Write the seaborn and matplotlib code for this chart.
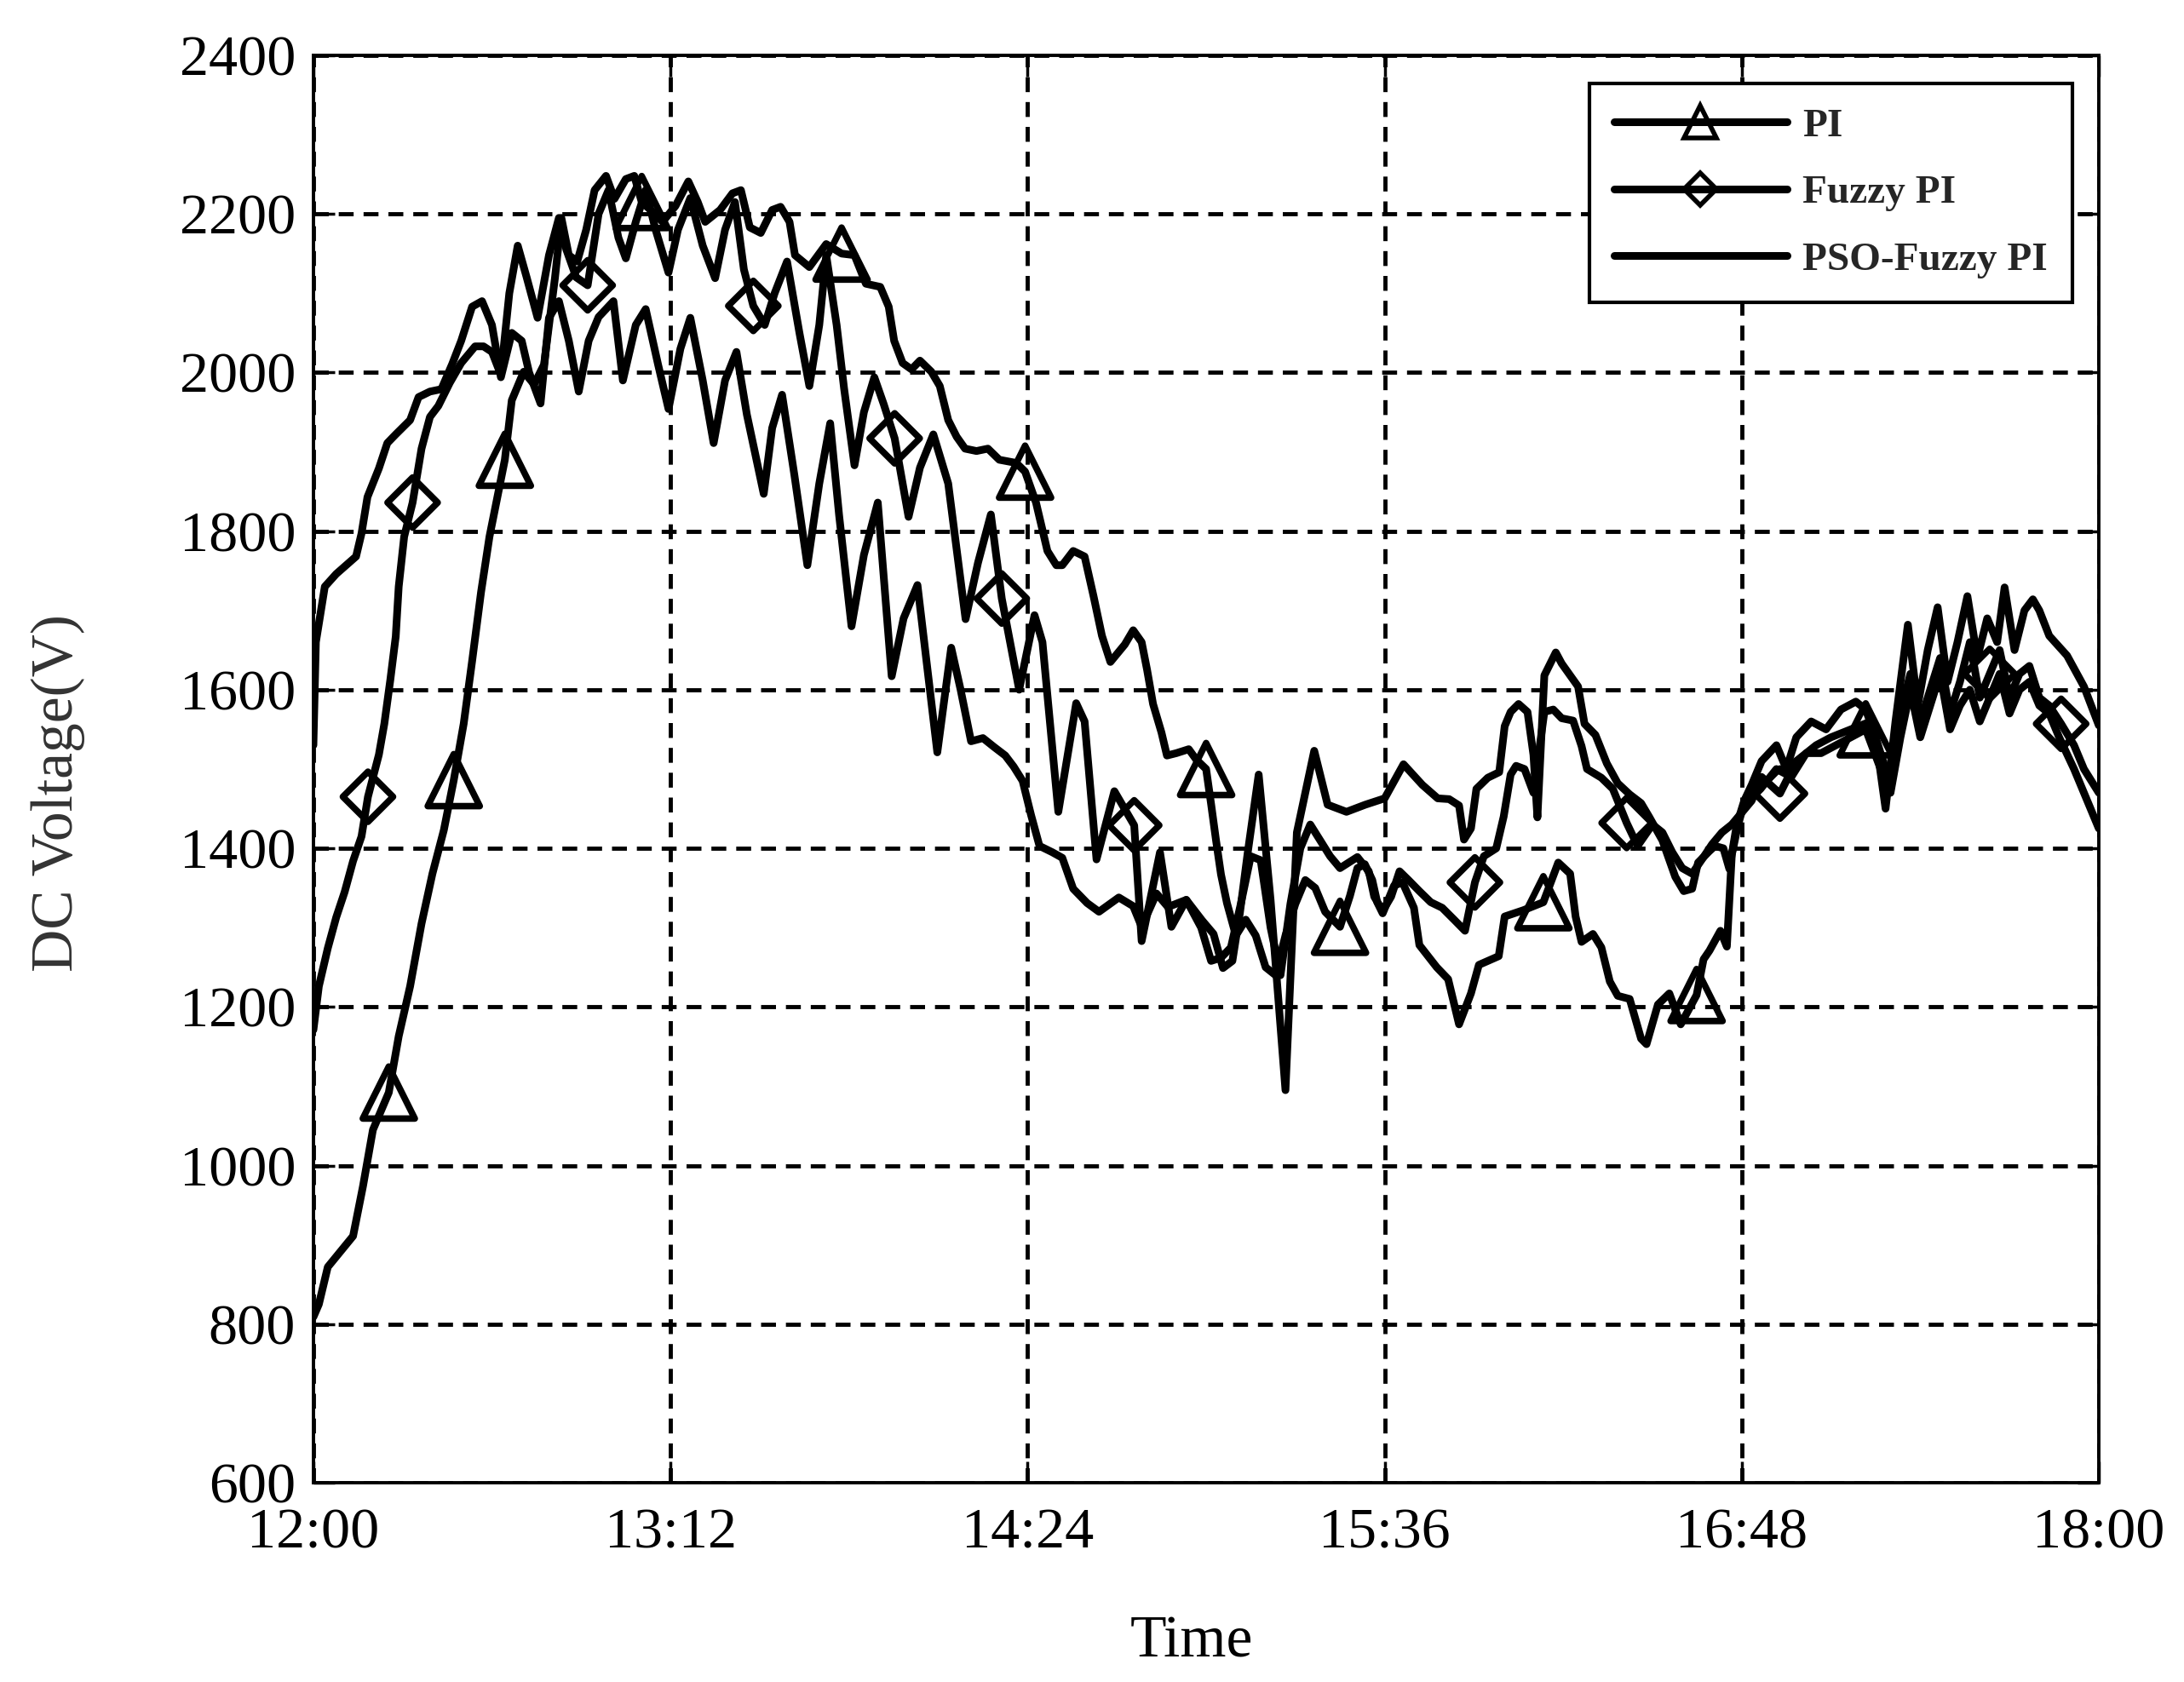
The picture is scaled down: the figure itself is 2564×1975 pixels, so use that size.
import numpy as np
import pandas as pd
import matplotlib
matplotlib.use('Agg')
import matplotlib.pyplot as plt
from matplotlib.lines import Line2D
import seaborn as sns

# time in minutes after 12:00, DC voltage in V
pi_t = [0, 1.1, 2.9, 8, 10, 12, 15.2, 17.2, 19.5, 21.8, 24, 26.3, 28.3, 30.3, 32, 33.8, 35.5,
        38.6, 40, 42.4, 44.5, 46.5, 48.7, 50, 51.5, 53.2, 55, 56.7, 59, 60.7, 63, 64.7, 66.2,
        68, 70.4, 73, 75.6, 77.5, 79, 82, 84.5, 86.2, 88, 90.2, 92.5, 94.2, 96, 97.1, 100,
        103.4, 106.5, 109.1, 111.4, 114.3, 116, 117.1, 118.8, 120.6, 122.3, 124.6, 126.3, 128,
        129.7, 131.4, 133.7, 136, 138.3, 141.7, 143.5, 145.7, 146.9, 148, 149.8, 151, 153.2,
        155.5, 157.3, 159, 160.7, 163.6, 165.3, 167, 168.1, 169.3, 171, 172.1, 174, 176.5, 178,
        180, 181, 182, 183, 184.2, 186, 188, 190, 192, 194, 196, 198, 200, 202, 204, 207, 209,
        210.5, 212, 213.5, 214.5, 215.6, 217.9, 219.6, 221.9, 223, 226.5, 228.8, 231, 233.4,
        235, 239, 240.2, 244, 248, 251, 253.4, 254.5, 255.7, 258, 259.7, 261.4, 263, 265.4,
        267.7, 268.8, 271.1, 273.4, 275.7, 278.9, 280.3, 281.5, 283.7, 285, 286, 287.2, 288.3,
        291.8, 295, 298, 301, 304, 307, 310, 313, 316, 318, 320, 322, 324, 326, 328, 330, 332,
        334, 336, 338, 340, 342, 344, 346, 348, 350, 352, 355, 357, 360]
pi_v = [809, 825, 872, 911, 974, 1045, 1092, 1163, 1226, 1305, 1368, 1423, 1486, 1557, 1636, 1723, 1793,
        1890, 1965, 2001, 1985, 2010, 2119, 2195, 2148, 2140, 2180, 2230, 2248, 2219, 2244, 2248, 2215,
        2205, 2190, 2210, 2241, 2215, 2190, 2205, 2226, 2230, 2183, 2176, 2205, 2209, 2190, 2148, 2133,
        2162, 2150, 2148, 2112, 2108, 2083, 2040, 2012, 2004, 2015, 2001, 1983, 1940,
        1919, 1904, 1901, 1904, 1890, 1886, 1875, 1836, 1804, 1775, 1757, 1757, 1775,
        1768, 1718, 1668, 1635, 1657, 1675, 1660, 1625, 1582, 1546, 1517, 1520, 1525, 1512,
        1500, 1456, 1410, 1367, 1331, 1290, 1310, 1290, 1250, 1240, 1290, 1330, 1360, 1350, 1320, 1301, 1340,
        1375, 1380, 1360, 1332, 1318, 1353, 1357, 1325, 1278, 1250, 1235, 1178, 1217,
        1253, 1264, 1314, 1322, 1332, 1382, 1368, 1314, 1282, 1292, 1275, 1232, 1214, 1210,
        1160, 1153, 1203, 1217, 1178, 1215, 1260, 1271, 1296, 1276, 1392, 1428, 1453,
        1475, 1500, 1490, 1520, 1520, 1530, 1540, 1550, 1500, 1470, 1540, 1600, 1540, 1580, 1620, 1550, 1580,
        1600, 1560, 1590, 1620, 1570, 1600, 1610, 1580, 1570, 1540, 1500, 1470, 1425]
pi_marks = [15.2, 28.3, 38.6, 66.2, 106.5, 143.5, 180, 207, 248, 278.9, 313]

fz_t = [0, 1.1, 2.9, 4.6, 6.3, 8, 9.7, 11, 13.2, 14.3, 15.5, 16.6, 17.2, 18.3, 20, 21.8, 23.5,
        25.2, 27.5, 29.8, 32.6, 34.3, 36, 37.8, 39.5, 41.2, 43, 45.2, 47.5, 49.5, 51, 53, 55.3,
        57.5, 59.5, 61.5, 63, 65, 67, 69, 71.6, 73.5, 76, 78.5, 81, 83, 85, 86.8, 88.7, 91, 93,
        95.5, 98, 100, 102, 103.4, 105.5, 107, 109.1, 111, 113.1, 115, 117.2, 120, 122.3, 125,
        128, 131.5, 134, 136.6, 138.8, 142.3, 145.4, 147, 150.2, 153.8, 155.5, 157.9, 161.5,
        165.5, 167, 170.7, 173, 176, 179, 181, 183, 185, 187, 189, 191, 193, 195, 197, 199, 201,
        203, 205, 207, 210.5, 212.8, 213.9, 215.6, 217.3, 219, 220.8, 223, 225.3, 227.6, 230,
        232.2, 234.2, 236, 238.5, 240, 241.4, 242.5, 244.2, 246, 248.2, 250, 251.7, 254, 255.7,
        256.8, 259.7, 262, 264.8, 267, 270, 272, 274, 276, 278, 280.3, 282, 284, 286, 288, 290,
        292, 295.7, 299, 303, 306, 310, 314, 316, 318, 320, 322, 324, 326, 328, 330, 332, 334,
        336, 338, 340, 342, 344, 346, 348, 350, 352.4, 355, 357, 360]
fz_v = [1171, 1226, 1274, 1313, 1345, 1384, 1415, 1465, 1518, 1557, 1612, 1667, 1730, 1793, 1836, 1904, 1944,
        1958, 1987, 2012, 2033, 2033, 2026, 1997, 2100, 2160, 2120, 2069, 2148, 2195, 2155, 2120, 2110,
        2200, 2230, 2170, 2144, 2190, 2230, 2180, 2126, 2180, 2220, 2160, 2119, 2180, 2215, 2130, 2084, 2060, 2100,
        2140, 2050, 1983, 2060, 2148, 2060, 1980, 1883, 1950, 1994, 1960, 1917, 1818, 1880, 1922,
        1860, 1689, 1760, 1821, 1715, 1600, 1694, 1660, 1446, 1583, 1560, 1386, 1472,
        1429, 1283, 1395, 1301, 1335, 1300, 1258, 1262, 1275, 1330, 1390, 1385, 1300, 1240, 1330, 1400, 1430,
        1410, 1390, 1375, 1389, 1371, 1339, 1321, 1339, 1371, 1360, 1346, 1332, 1325, 1310,
        1296, 1357, 1390, 1400, 1440, 1493, 1504, 1500, 1470, 1572, 1575, 1564, 1561, 1529,
        1500, 1489, 1475, 1432, 1403, 1430, 1420, 1395, 1375, 1368, 1389, 1405, 1420, 1430, 1445, 1460,
        1490, 1469, 1510, 1530, 1540, 1550, 1560, 1520, 1480, 1570, 1620, 1560, 1600, 1640, 1570, 1610, 1660,
        1590, 1620, 1650, 1590, 1620, 1630, 1590, 1580, 1557, 1530, 1500, 1470]
fz_marks = [11, 20, 55.3, 88.7, 117.2, 138.8, 165.5, 234.2, 264.8, 295.7, 338, 352.4]

pso_t = [0, 0.5, 2.3, 4.6, 8.6, 9.7, 10.9, 13.2, 14.9, 16.6, 19.5, 21.2, 23.5, 25.8, 28, 29.8, 32,
         34, 36, 37.8, 40, 42, 43.5, 45.8, 47.5, 49.5, 51.5, 53.5, 55.5, 57.5, 60.5, 62.4, 65, 67,
         69.5, 71.6, 74, 76, 78.5, 80.7, 83, 85.3, 87.4, 90.8, 92.5, 94.5, 97, 99.6, 102, 104.2,
         106, 108.5, 111, 113.8, 116.6, 119, 121.8, 125.8, 128.6, 130.5, 132.6, 135, 137.2, 139.5,
         141.2, 143, 144.7, 146.4, 149, 151, 153.2, 156, 158.4, 162.4, 165.3, 167, 170, 172.3, 176,
         179.2, 181.5, 183.4, 185.3, 186.8, 188.4, 190.6, 193, 196, 198.3, 201.8, 204.5, 208.3,
         212.1, 216, 219.8, 223.6, 226.7, 229, 231, 232, 233.4, 234.5, 236.8, 239.1, 240.2, 241.4,
         243, 244.8, 246, 246.8, 248.2, 250.5, 251.7, 255, 256.3, 258.5, 260.8, 263, 265.4, 267.7,
         269.4, 272, 274.6, 276.3, 278, 279.2, 281.4, 282.6, 284.3, 285.5, 287, 288.5, 290, 292,
         295, 297, 299, 302, 305, 308, 311, 313, 315, 317, 319, 321.5, 323.5, 325.5, 327.5, 329.5,
         331.5, 333.5, 335.5, 337.5, 339.5, 341, 343, 345, 346.7, 348, 350, 353.6, 357, 360]
pso_v = [1530, 1660, 1730, 1746, 1768, 1797, 1843, 1879, 1911, 1922, 1940, 1969, 1976, 1979, 2011, 2040, 2083,
         2090, 2060, 1994, 2050, 2040, 2000, 1961, 2069, 2090, 2040, 1976, 2040, 2070, 2090, 1990, 2060, 2080,
         2010, 1954, 2030, 2069, 1990, 1911, 1990, 2026, 1947, 1847, 1930, 1972, 1870, 1757, 1860, 1936,
         1820, 1680, 1770, 1836, 1617, 1690, 1732, 1521, 1653, 1600, 1535, 1539, 1528, 1517,
         1503, 1485, 1442, 1403, 1395, 1388, 1349, 1331, 1320, 1338, 1327, 1301, 1343, 1326, 1335,
         1309, 1292, 1249, 1258, 1318, 1395, 1493, 1335, 1095, 1420, 1523, 1455, 1446,
         1455, 1463, 1506, 1480, 1463, 1462, 1454, 1411, 1425, 1475, 1489, 1496, 1554, 1572,
         1582, 1572, 1518, 1439, 1618, 1647, 1633, 1604, 1557, 1543, 1507, 1482, 1468, 1457,
         1439, 1410, 1364, 1346, 1349, 1382, 1396, 1403, 1400, 1374, 1430, 1460, 1480, 1510,
         1530, 1500, 1540, 1560, 1550, 1575, 1585, 1575, 1540, 1450, 1560, 1682, 1580, 1650, 1704, 1610,
         1660, 1718, 1640, 1690, 1660, 1729, 1650, 1700, 1714, 1700, 1668, 1643, 1604, 1555]

labels = ['PI', 'Fuzzy PI', 'PSO-Fuzzy PI']
x_ticks = [0, 72, 144, 216, 288, 360]
x_labels = ['12:00', '13:12', '14:24', '15:36', '16:48', '18:00']
y_ticks = list(range(600, 2401, 200))

sns.set_theme(style='white')
plt.rcParams['font.family'] = ['Liberation Serif', 'DejaVu Serif']

df = pd.concat([
    pd.DataFrame({'Time': pi_t, 'Voltage': pi_v, 'Method': labels[0]}),
    pd.DataFrame({'Time': fz_t, 'Voltage': fz_v, 'Method': labels[1]}),
    pd.DataFrame({'Time': pso_t, 'Voltage': pso_v, 'Method': labels[2]}),
], ignore_index=True)

fig = plt.figure(figsize=(25.64, 19.75), dpi=100)
ax = fig.add_axes([0.1435, 0.1185, 0.8175, 0.8486])

sns.lineplot(data=df, x='Time', y='Voltage', hue='Method',
             palette={l: 'black' for l in labels}, estimator=None, sort=False,
             linewidth=6.5, legend=False, ax=ax)

pi_pts = df[(df['Method'] == 'PI') & df['Time'].isin(pi_marks)]
fz_pts = df[(df['Method'] == 'Fuzzy PI') & df['Time'].isin(fz_marks)]
sns.scatterplot(data=pi_pts, x='Time', y='Voltage', marker='^', s=44 ** 2,
                facecolor='none', edgecolor='black', linewidth=5.5, ax=ax, zorder=4, legend=False)
sns.scatterplot(data=fz_pts, x='Time', y='Voltage', marker='D', s=30 ** 2,
                facecolor='none', edgecolor='black', linewidth=5.5, ax=ax, zorder=4, legend=False)

ax.set_xlim(0, 360)
ax.set_ylim(600, 2400)
ax.set_xticks(x_ticks)
ax.set_xticklabels(x_labels)
ax.set_yticks(y_ticks)
ax.grid(True, color='black', linestyle=(0, (3.6, 2.4)), linewidth=3.5)
ax.tick_params(direction='in', length=18, width=2.5, top=True, right=True, bottom=True, left=True,
               labelsize=49, colors='black')
ax.tick_params(axis='x', pad=21)
ax.tick_params(axis='y', pad=15)
for s in ax.spines.values():
    s.set_color('black')
    s.set_linewidth(2.8)

ax.set_xlabel('Time', fontsize=50, color='black')
ax.set_ylabel('DC Voltage(V)', fontsize=50, color='#333333')
ax.xaxis.set_label_coords(0.492, -0.093)
ax.yaxis.set_label_coords(-0.128, 0.483)

handles = [Line2D([], [], color='black', lw=6.5, marker='^', ms=28, mfc='none', mec='black', mew=4),
           Line2D([], [], color='black', lw=6.5, marker='D', ms=19, mfc='none', mec='black', mew=4),
           Line2D([], [], color='black', lw=6.5)]
leg = ax.legend(handles, labels, loc='upper right', bbox_to_anchor=(0.985, 0.98), borderaxespad=0,
                fancybox=False, edgecolor='black', framealpha=1,
                prop={'size': 34, 'weight': 'bold'}, handlelength=4.3, handletextpad=0.4,
                labelspacing=0.75, borderpad=0.6)
leg.get_frame().set_linewidth(3)

fig.savefig('out.png', dpi=100)
